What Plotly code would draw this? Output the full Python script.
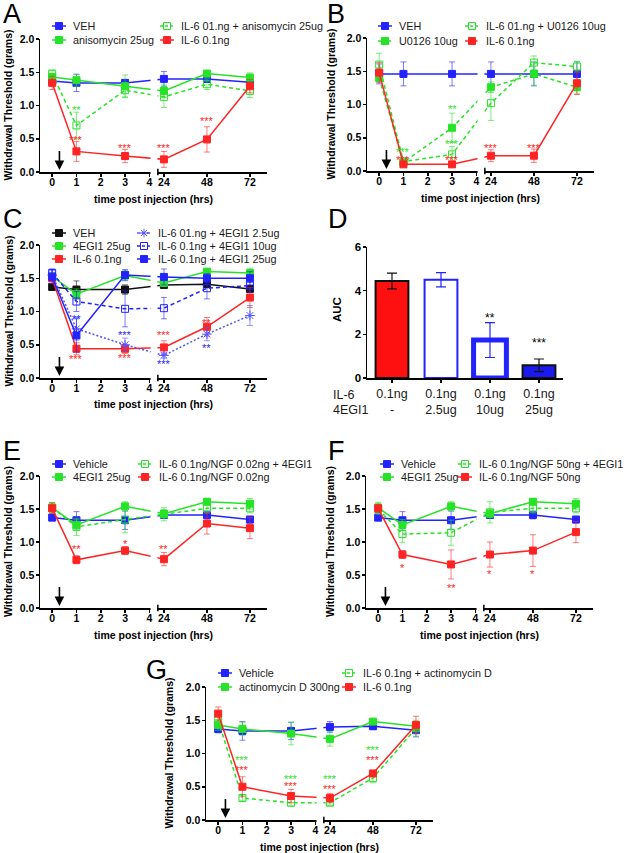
import plotly.graph_objects as go

W, H = 628, 853
BLUE = '#2323ff'
GREEN = '#27e327'
RED = '#ff2424'
BLACK = '#111111'
LBLUE = '#5555ff'
FONT = 'Liberation Sans, Arial, sans-serif'

# ---------------- data ----------------
hours = [0, 1, 3, 24, 48, 72]
tick_hours = [0, 1, 2, 3, 4, 24, 48, 72]
y_ticks = [0, 0.5, 1.0, 1.5, 2.0]

# Panel A
A_veh = [1.37, 1.34, 1.34, 1.40, 1.40, 1.35]
A_veh_err = [0.05, 0.13, 0.05, 0.11, 0.05, 0.05]
A_aniso = [1.43, 1.38, 1.29, 1.22, 1.48, 1.42]
A_aniso_err = [0.05, 0.09, 0.17, 0.10, 0.03, 0.07]
A_il6_aniso = [1.48, 0.70, 1.23, 1.13, 1.32, 1.22]
A_il6_aniso_err = [0.05, 0.20, 0.10, 0.16, 0.08, 0.10]
A_il6 = [1.34, 0.31, 0.24, 0.19, 0.49, 1.29]
A_il6_err = [0.10, 0.15, 0.10, 0.12, 0.19, 0.10]

# Panel B
B_veh = [1.46, 1.46, 1.46, 1.46, 1.46, 1.46]
B_veh_err = [0.15, 0.18, 0.18, 0.18, 0.18, 0.18]
B_u0126 = [1.40, 0.13, 0.65, 1.26, 1.46, 1.26]
B_u0126_err = [0.05, 0.03, 0.22, 0.08, 0.17, 0.10]
B_il6_u0126 = [1.60, 0.14, 0.25, 1.02, 1.63, 1.57]
B_il6_u0126_err = [0.17, 0.03, 0.12, 0.26, 0.10, 0.08]
B_il6 = [1.48, 0.10, 0.10, 0.23, 0.23, 1.32]
B_il6_err = [0.15, 0.02, 0.02, 0.09, 0.10, 0.17]

# Panel C
C_veh = [1.37, 1.33, 1.33, 1.40, 1.41, 1.34]
C_veh_err = [0.05, 0.13, 0.07, 0.05, 0.05, 0.04]
C_egi = [1.53, 1.26, 1.54, 1.43, 1.60, 1.58]
C_egi_err = [0.06, 0.08, 0.08, 0.05, 0.04, 0.07]
C_il6 = [1.50, 0.44, 0.44, 0.46, 0.77, 1.21]
C_il6_err = [0.08, 0.09, 0.07, 0.10, 0.14, 0.15]
C_il6_egi25 = [1.55, 0.74, 0.50, 0.34, 0.66, 0.94]
C_il6_egi25_err = [0.08, 0.17, 0.10, 0.04, 0.10, 0.15]
C_il6_egi10 = [1.58, 1.15, 1.04, 1.05, 1.35, 1.39]
C_il6_egi10_err = [0.06, 0.15, 0.27, 0.16, 0.16, 0.10]
C_il6_egi250 = [1.52, 0.64, 1.55, 1.52, 1.50, 1.50]
C_il6_egi250_err = [0.10, 0.25, 0.08, 0.12, 0.07, 0.10]

# Panel D
D_rows = ['IL-6', '4EGI1']
D_labels = ['0.1ng<br>-', '0.1ng<br>2.5ug', '0.1ng<br>10ug', '0.1ng<br>25ug']
D_auc = [4.44, 4.50, 1.74, 0.58]
D_auc_err = [0.36, 0.33, 0.80, 0.29]
D_sig = ['', '', '**', '***']
D_sig_y = [None, None, 2.82, 1.68]

# Panel E
E_veh = [1.37, 1.33, 1.33, 1.41, 1.41, 1.34]
E_veh_err = [0.05, 0.13, 0.14, 0.05, 0.06, 0.05]
E_egi = [1.52, 1.26, 1.54, 1.43, 1.61, 1.58]
E_egi_err = [0.08, 0.08, 0.07, 0.06, 0.05, 0.08]
E_combo = [1.52, 1.23, 1.34, 1.42, 1.51, 1.51]
E_combo_err = [0.08, 0.13, 0.20, 0.10, 0.07, 0.07]
E_ngf = [1.51, 0.73, 0.87, 0.74, 1.28, 1.21]
E_ngf_err = [0.08, 0.06, 0.06, 0.10, 0.16, 0.16]

# Panel F
F_veh = [1.37, 1.33, 1.33, 1.41, 1.41, 1.34]
F_veh_err = [0.05, 0.13, 0.14, 0.05, 0.06, 0.05]
F_egi = [1.52, 1.26, 1.54, 1.43, 1.61, 1.58]
F_egi_err = [0.08, 0.08, 0.07, 0.06, 0.05, 0.08]
F_combo = [1.50, 1.12, 1.14, 1.45, 1.51, 1.51]
F_combo_err = [0.08, 0.13, 0.19, 0.16, 0.07, 0.07]
F_ngf = [1.51, 0.81, 0.66, 0.81, 0.87, 1.15]
F_ngf_err = [0.06, 0.06, 0.22, 0.19, 0.24, 0.16]

# Panel G
G_veh = [1.37, 1.34, 1.34, 1.40, 1.41, 1.35]
G_veh_err = [0.06, 0.14, 0.13, 0.08, 0.05, 0.10]
G_act = [1.43, 1.37, 1.30, 1.22, 1.48, 1.41]
G_act_err = [0.08, 0.10, 0.17, 0.11, 0.03, 0.07]
G_il6_act = [1.50, 0.33, 0.26, 0.26, 0.63, 1.38]
G_il6_act_err = [0.10, 0.04, 0.05, 0.04, 0.07, 0.12]
G_il6 = [1.60, 0.50, 0.36, 0.33, 0.70, 1.43]
G_il6_err = [0.10, 0.15, 0.10, 0.07, 0.03, 0.13]

# significance marks: (hour, y, text, colour)
A_stars = [(1, 0.97, '**', GREEN), (1, 0.51, '***', RED), (3, 0.39, '***', RED),
           (24, 0.39, '***', RED), (48, 0.79, '***', RED)]
B_stars = [(1, 0.31, '***', GREEN), (1, 0.20, '***', RED), (3, 0.96, '**', GREEN),
           (3, 0.43, '***', GREEN), (3, 0.20, '***', RED), (24, 0.38, '***', RED),
           (48, 0.38, '***', RED)]
C_stars = [(1, 0.92, '**', BLUE), (1, 0.32, '***', RED), (3, 0.67, '***', BLUE),
           (3, 0.33, '***', RED), (24, 0.67, '***', RED), (24, 0.24, '***', BLUE),
           (48, 0.86, '**', RED), (48, 0.48, '**', BLUE)]
E_stars = [(1, 0.93, '**', RED), (3, 1.00, '*', RED), (24, 0.93, '**', RED)]
F_stars = [(1, 0.63, '*', RED), (3, 0.34, '**', RED), (24, 0.55, '*', RED), (48, 0.55, '*', RED)]
G_stars = [(1, 0.93, '***', GREEN), (1, 0.78, '***', RED), (3, 0.65, '***', GREEN),
           (3, 0.54, '***', RED), (24, 0.65, '***', GREEN), (24, 0.50, '***', RED),
           (48, 1.09, '***', GREEN), (48, 0.93, '***', RED)]

# ---------------- styles ----------------
DASH = '4px,3px'
STYLES = {
    'blue': (BLUE, 'solid', 'square'),
    'black': (BLACK, 'solid', 'square'),
    'green': (GREEN, 'solid', 'square'),
    'green_dash': (GREEN, DASH, 'square'),
    'green_open': (GREEN, DASH, 'square-open'),
    'red': (RED, 'solid', 'square'),
    'blue_dot': (LBLUE, '2px,2px', 'asterisk-open'),
    'blue_dash': (BLUE, DASH, 'square-open'),
}


def rgba(hexc, a):
    h = hexc.lstrip('#')
    return 'rgba(%d,%d,%d,%.2f)' % (int(h[0:2], 16), int(h[2:4], 16), int(h[4:6], 16), a)


def brk(h):
    """broken time axis: 0-4 h linear, then 24-72 h compressed"""
    return h if h <= 4 else 4.6 + (h - 24) * 1.77 / 24


PX_PER = 24.3
XR = [-0.5, -0.5 + 227 / PX_PER]

panels = [
    dict(ax='', left=40, top=39, bot=172, letter='A', lx=1, ly=3, ytx=8,
         series=[('VEH', A_veh, A_veh_err, 'blue'),
                 ('anisomycin 25ug', A_aniso, A_aniso_err, 'green'),
                 ('IL-6 01.ng + anisomycin 25ug', A_il6_aniso, A_il6_aniso_err, 'green_open'),
                 ('IL-6 0.1ng', A_il6, A_il6_err, 'red')],
         legend=[(52, 26, 0), (52, 40, 1), (160, 26, 2), (160, 40, 3)],
         stars=A_stars),
    dict(ax='2', left=367, top=38, bot=171, letter='B', lx=325, ly=3, ytx=331,
         series=[('VEH', B_veh, B_veh_err, 'blue'),
                 ('U0126 10ug', B_u0126, B_u0126_err, 'green_dash'),
                 ('IL-6 01.ng + U0126 10ug', B_il6_u0126, B_il6_u0126_err, 'green_open'),
                 ('IL-6 0.1ng', B_il6, B_il6_err, 'red')],
         legend=[(378, 26, 0), (378, 41, 1), (465, 26, 2), (465, 41, 3)],
         stars=B_stars),
    dict(ax='3', left=40, top=245, bot=378, letter='C', lx=1, ly=208, ytx=8,
         series=[('VEH', C_veh, C_veh_err, 'black'),
                 ('4EGI1 25ug', C_egi, C_egi_err, 'green'),
                 ('IL-6 0.1ng', C_il6, C_il6_err, 'red'),
                 ('IL-6 01.ng + 4EGI1 2.5ug', C_il6_egi25, C_il6_egi25_err, 'blue_dot'),
                 ('IL-6 0.1ng + 4EGI1 10ug', C_il6_egi10, C_il6_egi10_err, 'blue_dash'),
                 ('IL-6 0.1ng + 4EGI1 25ug', C_il6_egi250, C_il6_egi250_err, 'blue')],
         legend=[(52, 233, 0), (52, 246, 1), (52, 259, 2), (137, 233, 3), (137, 246, 4), (137, 259, 5)],
         stars=C_stars),
    dict(ax='5', left=40, top=476, bot=608, letter='E', lx=1, ly=440, ytx=8,
         series=[('Vehicle', E_veh, E_veh_err, 'blue'),
                 ('4EGI1 25ug', E_egi, E_egi_err, 'green'),
                 ('IL-6 0.1ng/NGF 0.02ng + 4EGI1', E_combo, E_combo_err, 'green_open'),
                 ('IL-6 0.1ng/NGF 0.02ng', E_ngf, E_ngf_err, 'red')],
         legend=[(52, 464, 0), (52, 477, 1), (138, 464, 2), (138, 477, 3)],
         stars=E_stars),
    dict(ax='6', left=366, top=476, bot=608, letter='F', lx=326, ly=440, ytx=330,
         series=[('Vehicle', F_veh, F_veh_err, 'blue'),
                 ('4EGI1 25ug', F_egi, F_egi_err, 'green'),
                 ('IL-6 0.1ng/NGF 50ng + 4EGI1', F_combo, F_combo_err, 'green_open'),
                 ('IL-6 0.1ng/NGF 50ng', F_ngf, F_ngf_err, 'red')],
         legend=[(380, 464, 0), (380, 477, 1), (458, 464, 2), (458, 477, 3)],
         stars=F_stars),
    dict(ax='7', left=206, top=687, bot=820, letter='G', lx=144, ly=659, ytx=168,
         series=[('Vehicle', G_veh, G_veh_err, 'blue'),
                 ('actinomycin D 300ng', G_act, G_act_err, 'green'),
                 ('IL-6 0.1ng + actinomycin D', G_il6_act, G_il6_act_err, 'green_open'),
                 ('IL-6 0.1ng', G_il6, G_il6_err, 'red')],
         legend=[(218, 673, 0), (218, 687, 1), (342, 673, 2), (342, 687, 3)],
         stars=G_stars),
]


def px2x(px):
    return px / W


def px2y(py):
    return 1 - py / H


fig = go.Figure()
layout = {}
annotations = []
shapes = []

axis_common = dict(showline=True, linecolor='black', linewidth=1.5, ticks='outside',
                   ticklen=3, tickwidth=1.5, tickcolor='black', showgrid=False,
                   zeroline=False, fixedrange=True, automargin=False,
                   tickfont=dict(family=FONT, size=10.5, color='black', weight='bold'))

LEG_FONT = dict(family=FONT, size=10.8, color='#1a1a1a')
STAR_FONT = 11


def ann(**kw):
    d = dict(showarrow=False, xanchor='center', yanchor='middle')
    d.update(kw)
    annotations.append(d)


for p in panels:
    a = p['ax']
    xname, yname = 'x' + a, 'y' + a
    xkey, ykey = 'xaxis' + a, 'yaxis' + a
    layout[xkey] = dict(axis_common, domain=[px2x(p['left']), px2x(p['left'] + 227)],
                        range=XR, anchor=yname, ticklabelstandoff=-3,
                        tickvals=[brk(h) for h in tick_hours],
                        ticktext=[str(h) for h in tick_hours])
    layout[ykey] = dict(axis_common, domain=[px2y(p['bot']), px2y(p['top'])],
                        range=[0, 2.0], anchor=xname, ticklabelstandoff=-1,
                        tickvals=y_ticks, ticktext=['%.1f' % v for v in y_ticks])
    for name, vals, errs, sty in p['series']:
        c, d, s = STYLES[sty]
        fig.add_trace(go.Scatter(
            x=[brk(h) for h in hours], y=vals, mode='lines+markers', name=name,
            xaxis=xname, yaxis=yname, showlegend=False,
            line=dict(color=c, width=1.5, dash=d),
            marker=dict(symbol=s, size=8 if s.startswith('asterisk') else 7, color=c,
                        line=dict(color=c, width=1)),
            error_y=dict(type='data', array=errs, color=rgba(c, 0.6), thickness=1, width=3)))
    # axis break mask
    shapes.append(dict(type='rect', xref=xname, yref=yname + ' domain',
                       x0=4.05, x1=4.33, y0=-0.025, y1=1.02,
                       fillcolor='white', line=dict(width=0), layer='above'))
    shapes.append(dict(type='line', xref=xname, yref=yname + ' domain',
                       x0=4.35, x1=4.35, y0=-0.025, y1=0.025,
                       line=dict(color='black', width=1.5), layer='above'))
    # arrow (injection time)
    annotations.append(dict(x=0.3, y=0.03, ax=0.3, ay=0.34, xref=xname, yref=yname,
                            axref=xname, ayref=yname, showarrow=True, arrowhead=2,
                            arrowsize=1.2, arrowwidth=1.6, arrowcolor='black', text='',
                            standoff=0))
    # stars
    for h, yv, t, c in p['stars']:
        ann(x=brk(h), y=yv, xref=xname, yref=yname, text=t, yshift=-2,
            font=dict(family=FONT, size=STAR_FONT, color=c))
    # titles
    ann(x=px2x(p['left'] + 113.5), y=px2y(p['bot'] + 26.5), xref='paper', yref='paper',
        text='time post injection (hrs)',
        font=dict(family=FONT, size=10.5, color='black', weight='bold'))
    ann(x=px2x(p['ytx']), y=px2y((p['top'] + p['bot']) / 2), xref='paper', yref='paper',
        text='Withdrawal Threshold (grams)', textangle=-90,
        font=dict(family=FONT, size=10.5, color='black', weight='bold'))
    ann(x=px2x(p['lx']), y=px2y(p['ly'] - 6), xref='paper', yref='paper',
        text=p['letter'], xanchor='left', yanchor='top',
        font=dict(family=FONT, size=27, color='black'))
    # legend keys (drawn on overlay pixel axis)
    for kx, ky, idx in p['legend']:
        name, vals, errs, sty = p['series'][idx]
        c, d, s = STYLES[sty]
        fig.add_trace(go.Scatter(x=[kx, kx + 14], y=[ky, ky], mode='lines', xaxis='x8',
                                 yaxis='y8', showlegend=False,
                                 line=dict(color=c, width=1.5, dash='3px,2px' if d != 'solid' else 'solid')))
        fig.add_trace(go.Scatter(x=[kx + 7], y=[ky], mode='markers', xaxis='x8', yaxis='y8',
                                 showlegend=False,
                                 marker=dict(symbol=s, size=7, color=c, line=dict(color=c, width=1))))
        ann(x=px2x(kx + 19), y=px2y(ky), xref='paper', yref='paper', text=name,
            xanchor='left', font=LEG_FONT)

# ---------------- Panel D (bars) ----------------
bar_fill = ['#ff1010', 'white', 'white', '#1a1aee']
bar_line = ['#111111', BLUE, BLUE, '#111111']
bar_lw = [2, 2, 5, 2]
bar_err_col = ['#111111', BLUE, BLUE, '#111111']
for i in range(4):
    fig.add_trace(go.Bar(x=[i], y=[D_auc[i]], width=0.67, xaxis='x4', yaxis='y4',
                         showlegend=False,
                         marker=dict(color=bar_fill[i], line=dict(color=bar_line[i], width=bar_lw[i])),
                         error_y=dict(type='data', array=[D_auc_err[i]], color=bar_err_col[i],
                                      thickness=1.2, width=5)))
    if D_sig[i]:
        ann(x=i, y=D_sig_y[i], xref='x4', yref='y4', text=D_sig[i], yshift=-2,
            font=dict(family=FONT, size=12, color='black'))
layout['xaxis4'] = dict(axis_common, domain=[px2x(367), px2x(563)], range=[-0.51, 3.49],
                        anchor='y4', tickvals=[0, 1, 2, 3], ticktext=D_labels,
                        tickfont=dict(family=FONT, size=12.5, color='#1a1a1a'))
layout['yaxis4'] = dict(axis_common, domain=[px2y(378), px2y(247)], range=[0, 6],
                        anchor='x4', tickvals=[0, 2, 4, 6], ticklabelstandoff=-1,
                        tickfont=dict(family=FONT, size=11.5, color='black', weight='bold'))
for j, r in enumerate(D_rows):
    ann(x=px2x(331), y=px2y(395 + 15 * j), xref='paper', yref='paper', text=r,
        xanchor='left', font=dict(family=FONT, size=12.5, color='#1a1a1a'))
ann(x=px2x(337), y=px2y(310), xref='paper', yref='paper', text='AUC', textangle=-90,
    font=dict(family=FONT, size=11.5, color='black', weight='bold'))
ann(x=px2x(326), y=px2y(208 - 6), xref='paper', yref='paper', text='D',
    xanchor='left', yanchor='top', font=dict(family=FONT, size=27, color='black'))

# overlay pixel axis for legend keys
layout['xaxis8'] = dict(domain=[0, 1], range=[0, W], visible=False, anchor='y8', fixedrange=True)
layout['yaxis8'] = dict(domain=[0, 1], range=[H, 0], visible=False, anchor='x8', fixedrange=True)

fig.update_layout(**layout)
fig.update_layout(width=W, height=H, margin=dict(l=0, r=0, t=0, b=0, pad=0, autoexpand=False),
                  paper_bgcolor='white', plot_bgcolor='rgba(0,0,0,0)',
                  barmode='overlay', showlegend=False,
                  annotations=annotations, shapes=shapes,
                  font=dict(family=FONT, color='black'))

fig.write_html('out.html', config={'displayModeBar': False, 'staticPlot': True},
               post_script="document.body.style.margin='0px';")
